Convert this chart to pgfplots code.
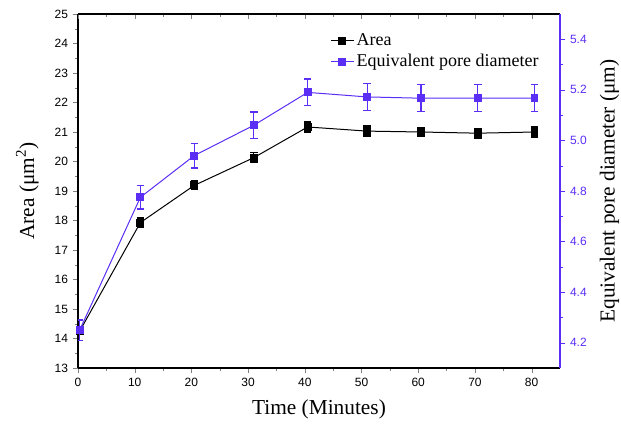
\documentclass[border=0pt]{standalone}
\usepackage{fontspec}
\setmainfont{Liberation Serif}
\setsansfont{Liberation Sans}
\usepackage{pgfplots}
\usepackage{pgfplotstable}
\pgfplotsset{compat=1.18}
\usetikzlibrary{calc}
\definecolor{epd}{HTML}{5B2EF5}

\pgfplotstableread{
x     y      ey
0.3   14.25  0.12
11    17.93  0.15
20.5  19.19  0.15
31    20.13  0.17
40.5  21.17  0.17
51    21.03  0.17
60.5  21.00  0.16
70.5  20.96  0.16
80.5  21.00  0.17
}\areatab

\pgfplotstableread{
x     y      ey
0.3   4.250  0.040
11    4.775  0.046
20.5  4.940  0.049
31    5.060  0.053
40.5  5.190  0.053
51    5.172  0.053
60.5  5.167  0.053
70.5  5.167  0.053
80.5  5.167  0.053
}\epdtab

\pgfplotsset{
  common/.style={
    scale only axis, width=361.5pt, height=265.5pt,
    xmin=0, xmax=85,
    /pgf/number format/assume math mode=true,
    tick label style={font=\sffamily\fontsize{9}{10}\selectfont},
    label style={font=\fontsize{16}{18}\selectfont},
    major tick length=4pt, minor tick length=2.5pt,
  },
}

\begin{document}
\begin{tikzpicture}
% left axis: area
\begin{axis}[common, name=main,
  axis x line*=bottom, axis y line*=left,
  tick align=outside,
  ymin=13, ymax=25, ytick={13,14,...,25},
  xtick={0,10,...,80}, minor x tick num=1, minor y tick num=1,
  xlabel={Time (Minutes)}, ylabel={Area (μm\textsuperscript{2})},
  ylabel shift=5pt, xlabel shift=3pt,
  axis line style={line width=0.8pt},
]
\addplot[black, line width=0.75pt, mark=square*, mark size=2.6pt,
  error bars/.cd, y dir=both, y explicit,
  error bar style={black, line width=1pt},
  error mark options={rotate=90, mark size=2.8pt, black, line width=1pt}]
  table[x=x, y=y, y error=ey] {\areatab};
\end{axis}
% top ticks
\begin{axis}[common,
  axis x line*=top, axis y line=none,
  tick align=inside, ymin=0, ymax=1,
  xtick={0,10,...,80}, minor x tick num=1, xticklabels={},
  axis line style={line width=0.8pt},
]
\end{axis}
% right axis: equivalent pore diameter
\begin{axis}[common,
  axis x line=none, axis y line*=right,
  tick align=outside,
  ymin=4.1, ymax=5.5, ytick={4.2,4.4,...,5.4}, minor y tick num=1,
  yticklabel style={epd, /pgf/number format/.cd, fixed, fixed zerofill, precision=1},
  y axis line style={epd, line width=1.1pt},
  ytick style={epd}, minor y tick style={epd},
  ylabel={Equivalent pore diameter (μm)}, ylabel shift=3pt,
  legend style={draw=none, fill=none, at={(0.97,0.96)}, anchor=north east,
    font=\fontsize{13.5}{15}\selectfont, row sep=1pt},
  legend cell align=left,
]
\addlegendimage{black, line width=0.75pt, mark=square*, mark size=2.6pt}
\addlegendentry{Area}
\addplot[epd, line width=0.75pt, mark=square*, mark size=2.6pt,
  error bars/.cd, y dir=both, y explicit,
  error bar style={epd, line width=1pt},
  error mark options={rotate=90, mark size=2.8pt, epd, line width=1pt}]
  table[x=x, y=y, y error=ey] {\epdtab};
\addlegendentry{Equivalent pore diameter}
\end{axis}
\pgfresetboundingbox
\path[use as bounding box] ($(main.south west)+(-58.5pt,-45.75pt)$) rectangle ($(main.north east)+(45.75pt,10.5pt)$);
\end{tikzpicture}
\end{document}
